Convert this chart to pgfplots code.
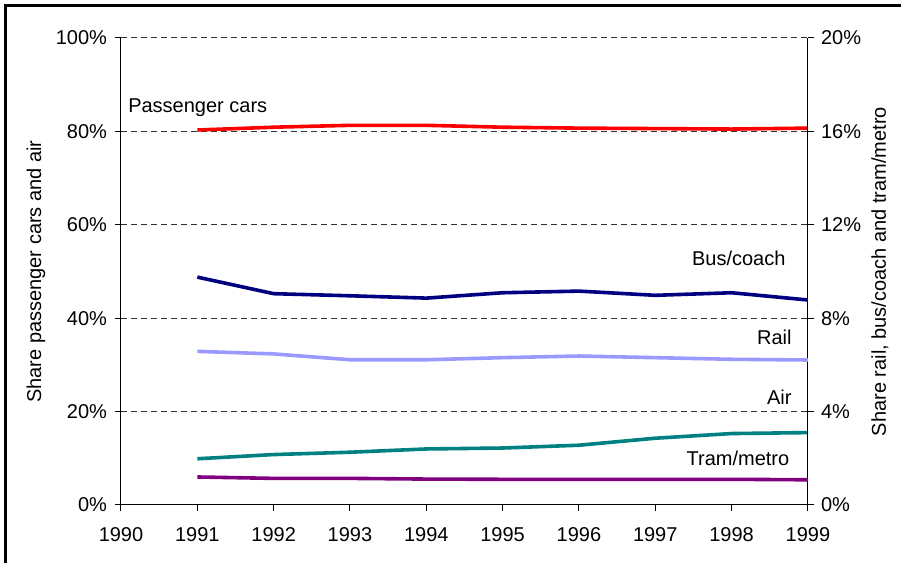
\documentclass[border=0pt]{standalone}
\usepackage{fontspec}
\setmainfont{Liberation Sans}
\usepackage{pgfplots}
\pgfplotsset{compat=1.18}

\definecolor{carred}{RGB}{255,0,0}
\definecolor{busnavy}{RGB}{0,0,128}
\definecolor{railblue}{RGB}{153,153,255}
\definecolor{airteal}{RGB}{0,128,128}
\definecolor{trampurple}{RGB}{128,0,128}

\pgfplotsset{
  sharebase/.style={
    at={(60.5pt,29pt)}, anchor=south west,
    scale only axis, width=343.5pt, height=233.5pt,
    xmin=1990, xmax=1999, ymin=0,
    font=\fontsize{10}{12}\selectfont,
    axis line style={-, black, line width=0.5pt},
    tick style={black, line width=0.5pt},
    major tick length=3pt, tick align=outside,
    every axis plot/.append style={line width=1.8pt, mark=none},
  },
}

\begin{document}
\begin{tikzpicture}
\useasboundingbox (0,0) rectangle (450.5pt,281.5pt);
% frame left and top
\draw[line width=1.5pt] (2.5pt,0) -- (2.5pt,278.75pt) -- (452pt,278.75pt);

% left axis: passenger cars and air
\begin{axis}[sharebase,
  ymax=100,
  axis y line*=left, axis x line*=bottom,
  xtick={1990,...,1999},
  xticklabels={1990,1991,1992,1993,1994,1995,1996,1997,1998,1999},
  xticklabel style={yshift=-4.5pt},
  ytick={0,20,40,60,80,100},
  yticklabels={0\%,20\%,40\%,60\%,80\%,100\%},
  yticklabel style={xshift=-0.5pt},
  ymajorgrids=true,
  grid style={black!80, line width=0.5pt, dash pattern=on 3pt off 2pt},
  ylabel={Share passenger cars and air},
  ylabel style={at={(axis description cs:-0.1237,0.5)}, anchor=center},
]
\addplot[carred] coordinates {
  (1991,80.3) (1992,80.9) (1993,81.3) (1994,81.3) (1995,80.9)
  (1996,80.7) (1997,80.6) (1998,80.5) (1999,80.7)
};
\addplot[airteal] coordinates {
  (1991,9.9) (1992,10.8) (1993,11.3) (1994,12.0) (1995,12.2)
  (1996,12.8) (1997,14.3) (1998,15.3) (1999,15.5)
};
\node[anchor=west, inner sep=0pt] at (axis cs:1990.09,85.0) {Passenger cars};
\node[anchor=east, inner sep=0pt] at (axis cs:1998.71,52.8) {Bus/coach};
\node[anchor=east, inner sep=0pt] at (axis cs:1998.79,36.0) {Rail};
\node[anchor=east, inner sep=0pt] at (axis cs:1998.79,23.1) {Air};
\node[anchor=east, inner sep=0pt] at (axis cs:1998.76,10.0) {Tram/metro};
\end{axis}

% right axis: rail, bus/coach and tram/metro
\begin{axis}[sharebase,
  ymax=20,
  axis y line*=right, axis x line=none,
  ytick={0,4,8,12,16,20},
  yticklabels={0\%,4\%,8\%,12\%,16\%,20\%},
  ylabel={Share rail, bus/coach and tram/metro},
  ylabel style={at={(axis description cs:1.1048,0.5)}, anchor=center},
]
\addplot[busnavy] coordinates {
  (1991,9.76) (1992,9.05) (1993,8.96) (1994,8.86) (1995,9.09)
  (1996,9.16) (1997,8.98) (1998,9.09) (1999,8.78)
};
\addplot[railblue] coordinates {
  (1991,6.58) (1992,6.47) (1993,6.22) (1994,6.22) (1995,6.31)
  (1996,6.38) (1997,6.31) (1998,6.24) (1999,6.21)
};
\addplot[trampurple] coordinates {
  (1991,1.20) (1992,1.14) (1993,1.14) (1994,1.11) (1995,1.10)
  (1996,1.10) (1997,1.10) (1998,1.10) (1999,1.08)
};
\end{axis}
\end{tikzpicture}
\end{document}
